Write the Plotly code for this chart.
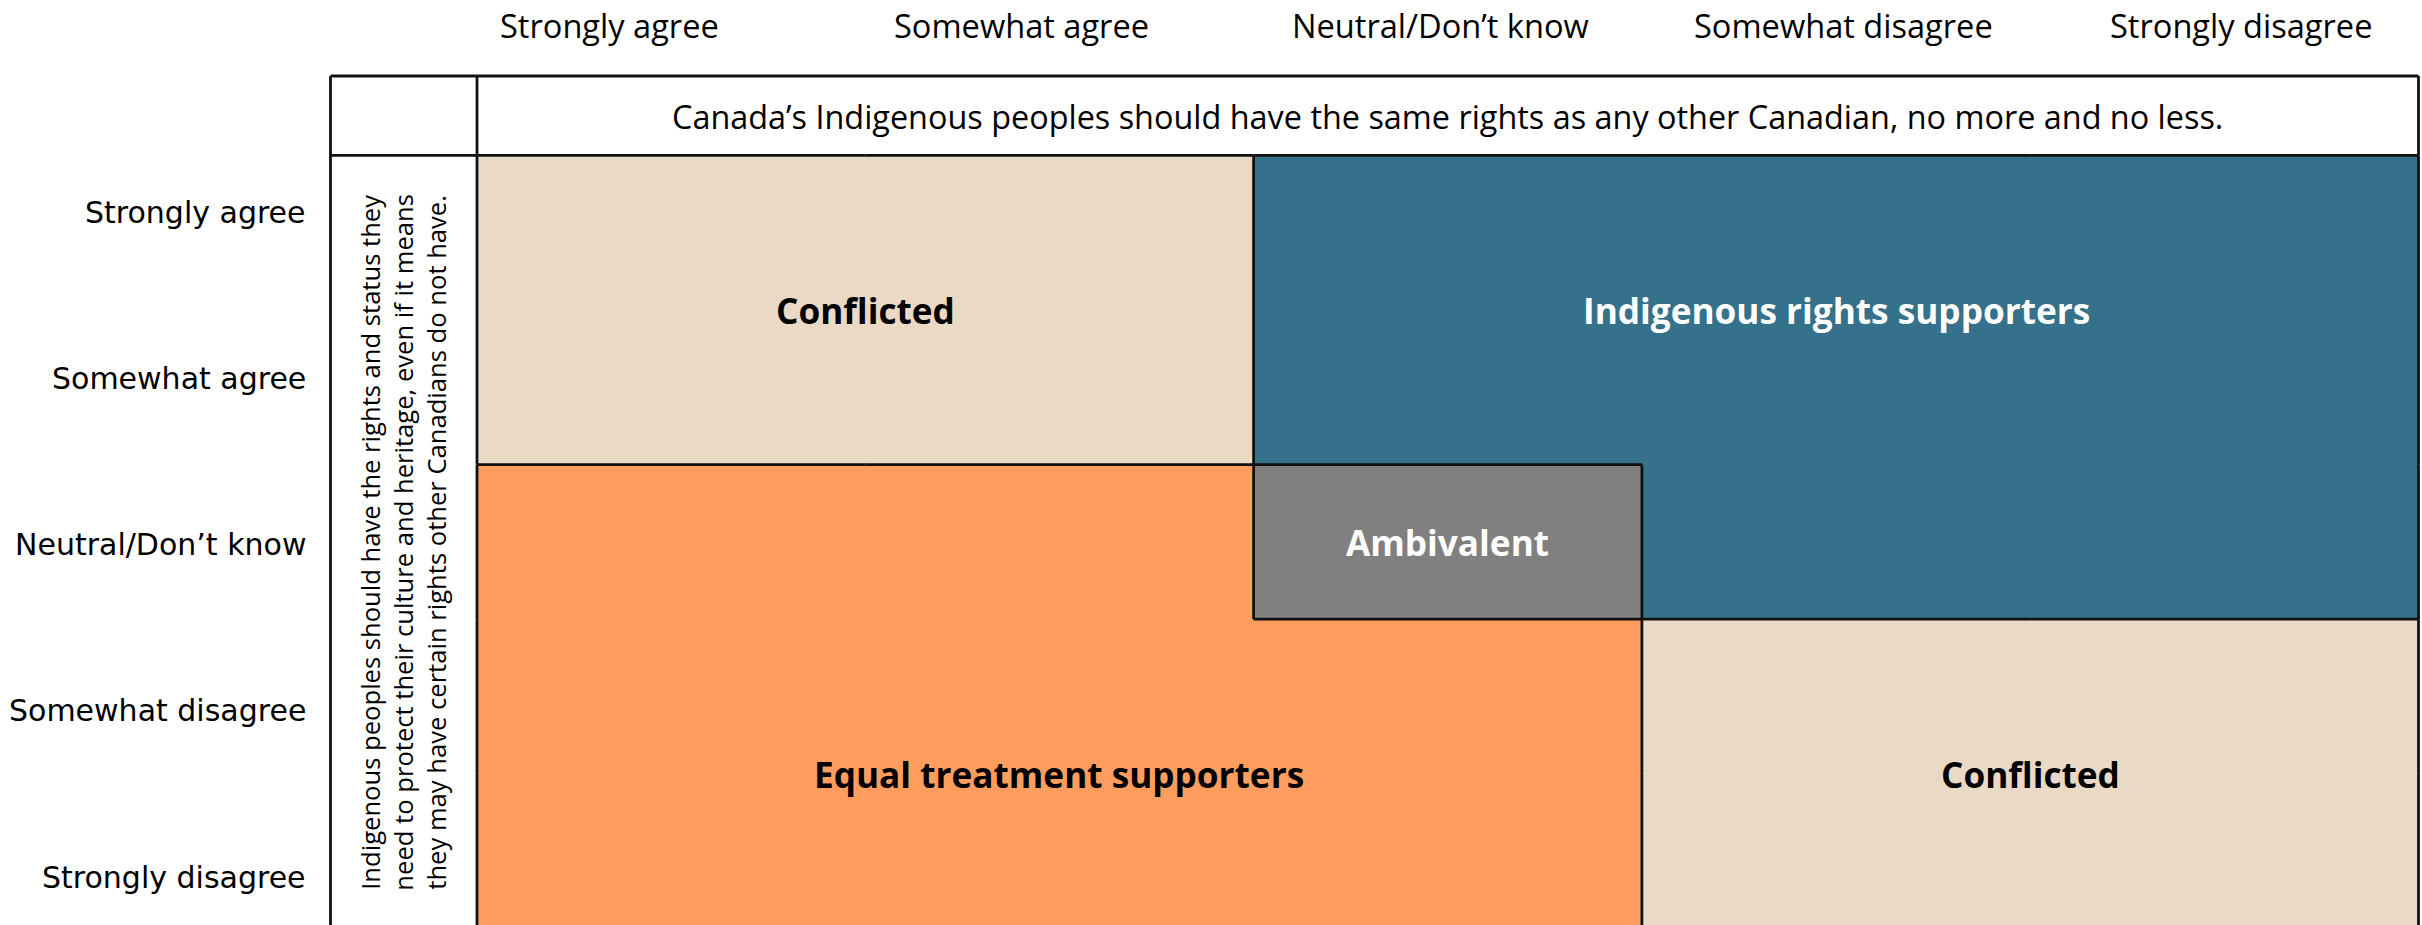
import plotly.graph_objects as go

# ---------------- data ----------------
response_levels = ["Strongly agree", "Somewhat agree", "Neutral/Don’t know",
                   "Somewhat disagree", "Strongly disagree"]
column_question = ("Canada’s Indigenous peoples should have the same rights as any other "
                   "Canadian, no more and no less.")
row_question_lines = ["Indigenous peoples should have the rights and status they",
                      "need to protect their culture and heritage, even if it means",
                      "they may have certain rights other Canadians do not have."]

segment_codes = ["C", "I", "A", "E"]
segment_names = {"C": "Conflicted", "I": "Indigenous rights supporters",
                 "A": "Ambivalent", "E": "Equal treatment supporters"}
# rows = row question response, columns = column question response
segment_grid = [
    ["C", "C", "I", "I", "I"],
    ["C", "C", "I", "I", "I"],
    ["E", "E", "A", "I", "I"],
    ["E", "E", "E", "C", "C"],
    ["E", "E", "E", "C", "C"],
]
# label blocks: (code, first col, last col, first row, last row)
label_blocks = [("C", 0, 1, 0, 1), ("I", 2, 4, 0, 1), ("A", 2, 2, 2, 2),
                ("E", 0, 2, 3, 4), ("C", 3, 4, 3, 4)]

# ---------------- style ----------------
colors = {"C": "#E9D9C5", "I": "#35718A", "A": "#808080", "E": "#FF9D5E"}
text_colors = {"C": "#000000", "I": "#FFFFFF", "A": "#FFFFFF", "E": "#000000"}
LINE = "#111111"
LW = 2.8

W, H = 2422, 925
GRID_LEFT, COL_W = 477.0, 388.3
GRID_TOP, ROW_H = 155.4, 154.6
TABLE_LEFT, TABLE_TOP = 330.5, 76.0


def px2c(p):
    return (p - GRID_LEFT) / COL_W - 0.5


def px2r(p):
    return (p - GRID_TOP) / ROW_H - 0.5


n = len(response_levels)
code_index = {c: i for i, c in enumerate(segment_codes)}
z = [[code_index[c] for c in row] for row in segment_grid]

cs = []
k = len(segment_codes)
for i, c in enumerate(segment_codes):
    cs.append([i / k, colors[c]])
    cs.append([(i + 1) / k, colors[c]])

fig = go.Figure()
fig.add_trace(go.Heatmap(
    z=z, x=list(range(n)), y=list(range(n)),
    colorscale=cs, zmin=0, zmax=k - 1, showscale=False, hoverinfo="skip",
))

# region boundaries computed from the grid
bx, by = [], []
for r in range(n):
    for c in range(n):
        code = segment_grid[r][c]
        if c == n - 1 or segment_grid[r][c + 1] != code:
            bx += [c + 0.5, c + 0.5, None]; by += [r - 0.5, r + 0.5, None]
        if c == 0:
            bx += [c - 0.5, c - 0.5, None]; by += [r - 0.5, r + 0.5, None]
        if r == n - 1 or segment_grid[r + 1][c] != code:
            bx += [c - 0.5, c + 0.5, None]; by += [r + 0.5, r + 0.5, None]
        if r == 0:
            bx += [c - 0.5, c + 0.5, None]; by += [r - 0.5, r - 0.5, None]

# table frame (header row and left question column)
tl, tt = px2c(TABLE_LEFT), px2r(TABLE_TOP)
frame = [
    ([tl, n - 0.5], [tt, tt]),
    ([tl, -0.5], [-0.5, -0.5]),
    ([tl, tl], [tt, n + 1]),
    ([-0.5, -0.5], [tt, -0.5]),
    ([n - 0.5, n - 0.5], [tt, -0.5]),
]
for xs, ys in frame:
    bx += xs + [None]; by += ys + [None]

fig.add_trace(go.Scatter(x=bx, y=by, mode="lines",
                         line=dict(color=LINE, width=LW),
                         hoverinfo="skip", showlegend=False))

ann = []
# segment labels
for code, c0, c1, r0, r1 in label_blocks:
    ann.append(dict(x=(c0 + c1) / 2, y=(r0 + r1) / 2, xref="x", yref="y",
                    text="<b>" + segment_names[code] + "</b>", showarrow=False,
                    font=dict(family="Open Sans", size=35.2, color=text_colors[code])))

# header question
ann.append(dict(x=(n - 1) / 2, y=(tt - 0.5) / 2, xref="x", yref="y",
                text=column_question, showarrow=False,
                font=dict(family="Open Sans", size=32.4, color="#000000")))

# vertical question
ann.append(dict(x=(tl - 0.5) / 2, y=(n - 1) / 2, xref="x", yref="y",
                text="<br>".join(row_question_lines), showarrow=False, textangle=-90,
                font=dict(family="Open Sans", size=25.6, color="#000000")))

# column response labels (top)
col_label_px = [609, 1021, 1440, 1843, 2241]
for lab, p in zip(response_levels, col_label_px):
    ann.append(dict(x=px2c(p), y=px2r(25), xref="x", yref="y", text=lab,
                    showarrow=False,
                    font=dict(family="Open Sans", size=32.6, color="#000000")))

# row response labels (left)
row_label_px = [212 + i * 166.25 for i in range(n)]
for lab, p in zip(response_levels, row_label_px):
    ann.append(dict(x=px2c(308), y=px2r(p), xref="x", yref="y", text=lab,
                    xanchor="right", showarrow=False,
                    font=dict(family="DejaVu Sans", size=30, color="#000000")))

fig.update_layout(
    width=W, height=H, autosize=False,
    margin=dict(l=0, r=0, t=0, b=0),
    paper_bgcolor="white", plot_bgcolor="white",
    xaxis=dict(range=[px2c(0), px2c(W)], visible=False, fixedrange=True),
    yaxis=dict(range=[px2r(H), px2r(0)], visible=False, fixedrange=True),
    annotations=ann, showlegend=False,
)

fig.write_html(
    "out.html",
    config={"displayModeBar": False},
    post_script="document.body.style.margin='0';document.body.style.overflow='hidden';",
)
